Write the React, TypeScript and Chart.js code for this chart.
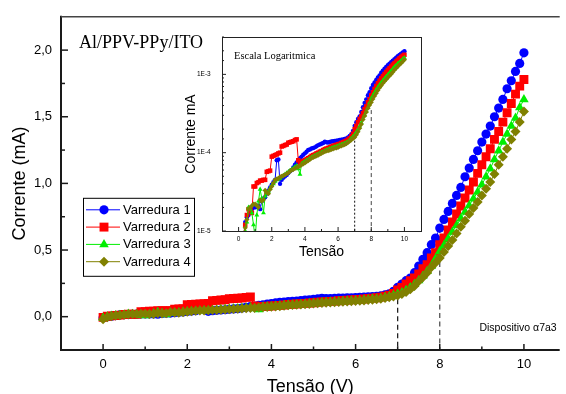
import React, { useEffect, useRef } from 'react';
import { Chart, registerables } from 'chart.js';
import { drawPoint } from 'chart.js/helpers';

Chart.register(...registerables);

// ---------------- data ----------------
const voltage = [
  0, 0.1, 0.2, 0.3, 0.4, 0.5, 0.6, 0.7, 0.8, 0.9,
  1.0, 1.1, 1.2, 1.3, 1.4, 1.5, 1.6, 1.7, 1.8, 1.9,
  2.0, 2.1, 2.2, 2.3, 2.4, 2.5, 2.6, 2.7, 2.8, 2.9,
  3.0, 3.1, 3.2, 3.3, 3.4, 3.5, 3.6, 3.7, 3.8, 3.9,
  4.0, 4.1, 4.2, 4.3, 4.4, 4.5, 4.6, 4.7, 4.8, 4.9,
  5.0, 5.1, 5.2, 5.3, 5.4, 5.5, 5.6, 5.7, 5.8, 5.9,
  6.0, 6.1, 6.2, 6.3, 6.4, 6.5, 6.6, 6.7, 6.8, 6.9,
  7.0, 7.1, 7.2, 7.3, 7.4, 7.5, 7.6, 7.7, 7.8, 7.9,
  8.0, 8.1, 8.2, 8.3, 8.4, 8.5, 8.6, 8.7, 8.8, 8.9,
  9.0, 9.1, 9.2, 9.3, 9.4, 9.5, 9.6, 9.7, 9.8, 9.9, 10.0,
];

// Corrente (mA)
const varredura1 = [
  -0.008, 0.000, 0.004, 0.008, 0.013, 0.015, 0.016, 0.018, 0.019, 0.020,
  0.020, 0.021, 0.021, 0.019, 0.024, 0.026, 0.027, 0.030, 0.033, 0.036,
  0.039, 0.042, 0.045, 0.080, 0.082, 0.040, 0.045, 0.048, 0.050, 0.052,
  0.055, 0.058, 0.060, 0.065, 0.070, 0.075, 0.080, 0.085, 0.089, 0.094,
  0.098, 0.103, 0.108, 0.110, 0.113, 0.115, 0.117, 0.121, 0.125, 0.127,
  0.130, 0.133, 0.138, 0.136, 0.135, 0.137, 0.139, 0.140, 0.141, 0.142,
  0.143, 0.145, 0.147, 0.148, 0.150, 0.152, 0.157, 0.163, 0.172, 0.190,
  0.22, 0.245, 0.27, 0.29, 0.33, 0.38, 0.43, 0.48, 0.54, 0.59,
  0.665, 0.73, 0.79, 0.85, 0.91, 0.97, 1.05, 1.115, 1.18, 1.245,
  1.31, 1.37, 1.43, 1.50, 1.565, 1.63, 1.71, 1.77, 1.84, 1.90, 1.98,
];
const varredura2 = [
  -0.005, 0.003, 0.006, 0.009, 0.012, 0.016, 0.019, 0.018, 0.017, 0.037,
  0.037, 0.041, 0.042, 0.044, 0.044, 0.045, 0.045, 0.057, 0.058, 0.059,
  0.089, 0.091, 0.093, 0.095, 0.098, 0.100, 0.120, 0.122, 0.125, 0.127,
  0.134, 0.136, 0.138, 0.140, 0.145, 0.148, 0.080, 0.074, 0.076, 0.078,
  0.080, 0.083, 0.085, 0.088, 0.091, 0.093, 0.095, 0.098, 0.100, 0.103,
  0.105, 0.108, 0.111, 0.113, 0.115, 0.117, 0.120, 0.122, 0.124, 0.126,
  0.128, 0.130, 0.133, 0.136, 0.139, 0.142, 0.147, 0.153, 0.162, 0.175,
  0.20, 0.22, 0.245, 0.27, 0.29, 0.32, 0.36, 0.39, 0.44, 0.48,
  0.54, 0.59, 0.65, 0.71, 0.77, 0.83, 0.89, 0.95, 1.01, 1.075,
  1.14, 1.20, 1.26, 1.33, 1.39, 1.46, 1.53, 1.60, 1.67, 1.73, 1.78,
];
const varredura3 = [
  -0.010, 0.000, 0.005, 0.008, 0.010, 0.013, 0.020, 0.019, 0.017, 0.012,
  0.008, 0.016, 0.024, 0.034, 0.026, 0.017, 0.028, 0.030, 0.032, 0.035,
  0.038, 0.040, 0.043, 0.045, 0.046, 0.047, 0.049, 0.051, 0.053, 0.055,
  0.057, 0.059, 0.061, 0.063, 0.066, 0.068, 0.062, 0.053, 0.072, 0.075,
  0.077, 0.080, 0.082, 0.085, 0.087, 0.089, 0.092, 0.094, 0.096, 0.099,
  0.101, 0.103, 0.106, 0.108, 0.110, 0.112, 0.114, 0.116, 0.118, 0.120,
  0.122, 0.124, 0.127, 0.129, 0.132, 0.135, 0.139, 0.145, 0.152, 0.160,
  0.170, 0.182, 0.198, 0.218, 0.243, 0.272, 0.305, 0.34, 0.38, 0.435,
  0.49, 0.535, 0.585, 0.635, 0.685, 0.735, 0.785, 0.835, 0.885, 0.935,
  0.99, 1.05, 1.11, 1.18, 1.245, 1.31, 1.37, 1.43, 1.49, 1.57, 1.63,
];
const varredura4 = [
  -0.020, -0.005, 0.004, 0.008, 0.011, 0.014, 0.019, 0.020, 0.021, 0.022,
  0.022, 0.021, 0.020, 0.025, 0.024, 0.025, 0.033, 0.031, 0.030, 0.034,
  0.037, 0.041, 0.045, 0.046, 0.047, 0.049, 0.050, 0.051, 0.052, 0.054,
  0.055, 0.058, 0.060, 0.061, 0.063, 0.065, 0.066, 0.068, 0.070, 0.072,
  0.074, 0.077, 0.079, 0.082, 0.085, 0.087, 0.089, 0.091, 0.093, 0.096,
  0.098, 0.101, 0.103, 0.105, 0.106, 0.108, 0.110, 0.112, 0.114, 0.115,
  0.117, 0.120, 0.122, 0.125, 0.127, 0.130, 0.135, 0.140, 0.146, 0.152,
  0.158, 0.170, 0.185, 0.205, 0.230, 0.265, 0.295, 0.33, 0.37, 0.405,
  0.44, 0.485, 0.53, 0.575, 0.625, 0.675, 0.72, 0.77, 0.815, 0.86,
  0.91, 0.96, 1.01, 1.07, 1.14, 1.20, 1.26, 1.33, 1.39, 1.46, 1.54,
];

const seriesLabels = ['Varredura 1', 'Varredura 2', 'Varredura 3', 'Varredura 4'];
const seriesValues = [varredura1, varredura2, varredura3, varredura4];

// tick values
const xTickValues = [0, 2, 4, 6, 8, 10];
const yTickValues = [0, 0.5, 1.0, 1.5, 2.0];
const insetXTickValues = [0, 2, 4, 6, 8, 10];

// dashed guide lines (Tensão, top of line in mA)
const guideX = [7, 8];
const guideTopMain = [0.195, 0.665];
const guideTopInset = [0.18, 0.35];

const titleText = 'Al/PPV-PPy/ITO';
const insetNote = 'Escala Logaritmica';
const deviceNote = 'Dispositivo \u03B17a3';

// ---------------- styles ----------------
const SANS = '"Liberation Sans", Arial, Helvetica, sans-serif';
const SERIF = '"Liberation Serif", "Times New Roman", serif';
const seriesStyle = [
  { color: '#0000ff', point: 'circle', r: 4.6, ri: 2.2 },
  { color: '#ff0000', point: 'rect', r: 6.3, ri: 3.2 },
  { color: '#00ee00', point: 'triangle', r: 5.5, ri: 2.8 },
  { color: '#808000', point: 'rectRot', r: 5.0, ri: 2.6 },
];

const X_MIN = -1, X_MAX = 10.85, Y_MIN = -0.25, Y_MAX = 2.25;
const IX_MIN = -1, IX_MAX = 11, IY_MIN = 1e-5, IY_MAX = 3e-3;

function mainDatasets() {
  const ds: any[] = seriesValues.map((vals, s) => ({
    label: seriesLabels[s],
    data: voltage.map((v, i) => ({ x: v, y: vals[i] })),
    borderColor: seriesStyle[s].color,
    backgroundColor: seriesStyle[s].color,
    borderWidth: 1,
    pointStyle: seriesStyle[s].point,
    pointRadius: seriesStyle[s].r,
    pointBorderWidth: 0,
    showLine: true,
    tension: 0,
    order: 3 - s,
  }));
  guideX.forEach((gx, i) => {
    ds.push({
      label: 'guide' + i,
      data: [{ x: gx, y: guideTopMain[i] }, { x: gx, y: Y_MIN }],
      borderColor: i === 0 ? '#111' : '#444',
      borderWidth: 1.2,
      borderDash: [5, 3.5],
      pointRadius: 0,
      showLine: true,
      order: 10,
    });
  });
  return ds;
}

function insetDatasets() {
  const ds: any[] = seriesValues.map((vals, s) => ({
    label: seriesLabels[s],
    data: voltage.map((v, i) => ({ x: v, y: vals[i] / 1000 })),
    borderColor: seriesStyle[s].color,
    backgroundColor: seriesStyle[s].color,
    borderWidth: 1,
    pointStyle: seriesStyle[s].point,
    pointRadius: seriesStyle[s].ri,
    pointBorderWidth: 0,
    showLine: true,
    tension: 0,
    order: 3 - s,
  }));
  guideX.forEach((gx, i) => {
    ds.push({
      label: 'guide' + i,
      data: [{ x: gx, y: guideTopInset[i] / 1000 }, { x: gx, y: IY_MIN }],
      borderColor: i === 0 ? '#111' : '#444',
      borderWidth: 1,
      borderDash: i === 0 ? [2, 2] : [4, 3],
      pointRadius: 0,
      showLine: true,
      order: 10,
    });
  });
  return ds;
}

function line(ctx: CanvasRenderingContext2D, x1: number, y1: number, x2: number, y2: number) {
  ctx.beginPath();
  ctx.moveTo(x1, y1);
  ctx.lineTo(x2, y2);
  ctx.stroke();
}

const mainDecor = {
  id: 'mainDecor',
  afterDraw(chart: any) {
    const { ctx, chartArea: a, scales } = chart;
    const x = scales.x, y = scales.y;
    ctx.save();
    // frame
    ctx.strokeStyle = '#1a1a1a';
    ctx.lineWidth = 2;
    line(ctx, a.left, a.top - 1, a.left, a.bottom + 1);
    line(ctx, a.left - 1, a.bottom, a.right, a.bottom);
    ctx.strokeStyle = '#444';
    ctx.lineWidth = 1.6;
    line(ctx, a.left, a.top, a.right, a.top);
    // ticks (inward)
    ctx.strokeStyle = '#1a1a1a';
    ctx.lineWidth = 1.5;
    x.ticks.forEach((t: any) => {
      const px = x.getPixelForValue(t.value);
      line(ctx, px, a.bottom, px, a.bottom - 6);
      const m = t.value + 1;
      if (m < x.max) {
        const pm = x.getPixelForValue(m);
        line(ctx, pm, a.bottom, pm, a.bottom - 3.5);
      }
    });
    y.ticks.forEach((t: any) => {
      const py = y.getPixelForValue(t.value);
      line(ctx, a.left, py, a.left + 7, py);
      const m = t.value + 0.25;
      if (m < y.max - 1e-6) {
        const pm = y.getPixelForValue(m);
        line(ctx, a.left, pm, a.left + 4, pm);
      }
    });
    // title
    ctx.fillStyle = '#000';
    ctx.font = `18px ${SERIF}`;
    ctx.textAlign = 'left';
    ctx.textBaseline = 'alphabetic';
    ctx.fillText(titleText, a.left + 18, a.top + 31);
    // device note
    ctx.font = `10.5px ${SANS}`;
    ctx.textAlign = 'right';
    ctx.textBaseline = 'middle';
    ctx.fillText(deviceNote, a.right - 3, a.bottom - 22);
    // legend
    const lx = a.left + 22, ly = a.top + 181, lw = 111, lh = 78;
    ctx.fillStyle = '#fff';
    ctx.fillRect(lx, ly, lw, lh);
    ctx.strokeStyle = '#000';
    ctx.lineWidth = 1;
    ctx.strokeRect(lx + 0.5, ly + 0.5, lw, lh);
    chart.data.datasets.slice(0, 4).forEach((d: any, i: number) => {
      const ry = ly + 12 + i * 17.3;
      ctx.strokeStyle = d.borderColor;
      ctx.lineWidth = 1;
      line(ctx, lx + 3, ry, lx + 37, ry);
      ctx.fillStyle = d.backgroundColor;
      drawPoint(ctx, { pointStyle: d.pointStyle, radius: d.pointRadius, rotation: 0, borderWidth: 0 } as any, lx + 21, ry);
      ctx.fillStyle = '#000';
      ctx.font = `13px ${SANS}`;
      ctx.textAlign = 'left';
      ctx.textBaseline = 'middle';
      ctx.fillText(d.label, lx + 40, ry + 0.5);
    });
    ctx.restore();
  },
};

const insetDecor = {
  id: 'insetDecor',
  afterDraw(chart: any) {
    const { ctx, chartArea: a, scales } = chart;
    const x = scales.x, y = scales.y;
    ctx.save();
    ctx.strokeStyle = '#222';
    ctx.lineWidth = 1;
    ctx.strokeRect(Math.round(a.left) + 0.5, Math.round(a.top) + 0.5, Math.round(a.right - a.left), Math.round(a.bottom - a.top));
    x.ticks.forEach((t: any) => {
      const px = x.getPixelForValue(t.value);
      line(ctx, px, a.bottom, px, a.bottom - 4);
      const m = t.value + 1;
      if (m < x.max) {
        const pm = x.getPixelForValue(m);
        line(ctx, pm, a.bottom, pm, a.bottom - 2);
      }
    });
    y.ticks.forEach((t: any) => {
      const py = y.getPixelForValue(t.value);
      const l = Math.log10(t.value);
      const major = Math.abs(l - Math.round(l)) < 1e-6;
      line(ctx, a.left, py, a.left + (major ? 4 : 2), py);
    });
    ctx.fillStyle = '#000';
    ctx.font = `10.5px ${SERIF}`;
    ctx.textAlign = 'left';
    ctx.textBaseline = 'middle';
    ctx.fillText(insetNote, a.left + 12, a.top + 19);
    ctx.restore();
  },
};

export default function App() {
  const mainRef = useRef<HTMLCanvasElement>(null);
  const insetRef = useRef<HTMLCanvasElement>(null);

  useEffect(() => {
    const main = new Chart(mainRef.current as HTMLCanvasElement, {
      type: 'line',
      data: { datasets: mainDatasets() },
      options: {
        animation: false,
        responsive: false,
        devicePixelRatio: 1,
        events: [],
        layout: { padding: { left: 0, top: 13, right: 0, bottom: 0 } },
        plugins: { legend: { display: false }, tooltip: { enabled: false } },
        scales: {
          x: {
            type: 'linear',
            min: X_MIN,
            max: X_MAX,
            afterBuildTicks: (s: any) => { s.ticks = xTickValues.map((value) => ({ value })); },
            afterFit: (s: any) => { s.height = 44; },
            grid: { display: false, drawTicks: false },
            border: { display: false },
            ticks: {
              padding: 7, autoSkip: false, maxRotation: 0,
              color: '#000', font: { family: SANS, size: 13 },
              callback: (v: any) => String(v),
            },
            title: {
              display: true, text: 'Tensão (V)', color: '#000',
              font: { family: SANS, size: 18 }, padding: { top: 0, bottom: -4 },
            },
          },
          y: {
            type: 'linear',
            min: Y_MIN,
            max: Y_MAX,
            afterBuildTicks: (s: any) => { s.ticks = yTickValues.map((value) => ({ value })); },
            afterFit: (s: any) => { s.width = 61; },
            grid: { display: false, drawTicks: false },
            border: { display: false },
            ticks: {
              padding: 9, autoSkip: false,
              color: '#000', font: { family: SANS, size: 13 },
              callback: (v: any) => Number(v).toFixed(1).replace('.', ','),
            },
            title: {
              display: true, text: 'Corrente (mA)', color: '#000',
              font: { family: SANS, size: 18 }, padding: { top: 9, bottom: 0 },
            },
          },
        },
      } as any,
      plugins: [mainDecor],
    });

    const inset = new Chart(insetRef.current as HTMLCanvasElement, {
      type: 'line',
      data: { datasets: insetDatasets() },
      options: {
        animation: false,
        responsive: false,
        devicePixelRatio: 1,
        events: [],
        layout: { padding: { left: 182, top: 37, right: 145, bottom: 133 } },
        plugins: { legend: { display: false }, tooltip: { enabled: false } },
        scales: {
          x: {
            type: 'linear',
            min: IX_MIN,
            max: IX_MAX,
            afterBuildTicks: (s: any) => { s.ticks = insetXTickValues.map((value) => ({ value })); },
            afterFit: (s: any) => { s.height = 30; },
            grid: { display: false, drawTicks: false },
            border: { display: false },
            ticks: {
              padding: 4.4, autoSkip: false, maxRotation: 0,
              color: '#000', font: { family: SANS, size: 6.5 },
              callback: (v: any) => String(v),
            },
            title: {
              display: true, text: 'Tensão', color: '#000',
              font: { family: SANS, size: 14 }, padding: { top: 0, bottom: 0.6 },
            },
          },
          y: {
            type: 'logarithmic',
            min: IY_MIN,
            max: IY_MAX,
            afterFit: (s: any) => { s.width = 40; },
            grid: { display: false, drawTicks: false },
            border: { display: false },
            ticks: {
              padding: 11.3, autoSkip: false,
              color: '#000', font: { family: SANS, size: 6.5 },
              callback: (v: any) => {
                const l = Math.log10(Number(v));
                return Math.abs(l - Math.round(l)) < 1e-6 ? '1E' + Math.round(l) : '';
              },
            },
            title: {
              display: true, text: 'Corrente mA', color: '#000',
              font: { family: SANS, size: 14 }, padding: { top: 0.6, bottom: 0 },
            },
          },
        },
      } as any,
      plugins: [insetDecor],
    });

    return () => {
      main.destroy();
      inset.destroy();
    };
  }, []);

  return (
    <div style={{ position: 'absolute', left: 0, top: 0, width: 566, height: 394, background: '#fff' }}>
      <canvas ref={mainRef} width={566} height={394} style={{ position: 'absolute', left: 0, top: 0 }} />
      <canvas ref={insetRef} width={566} height={394} style={{ position: 'absolute', left: 0, top: 0 }} />
    </div>
  );
}
